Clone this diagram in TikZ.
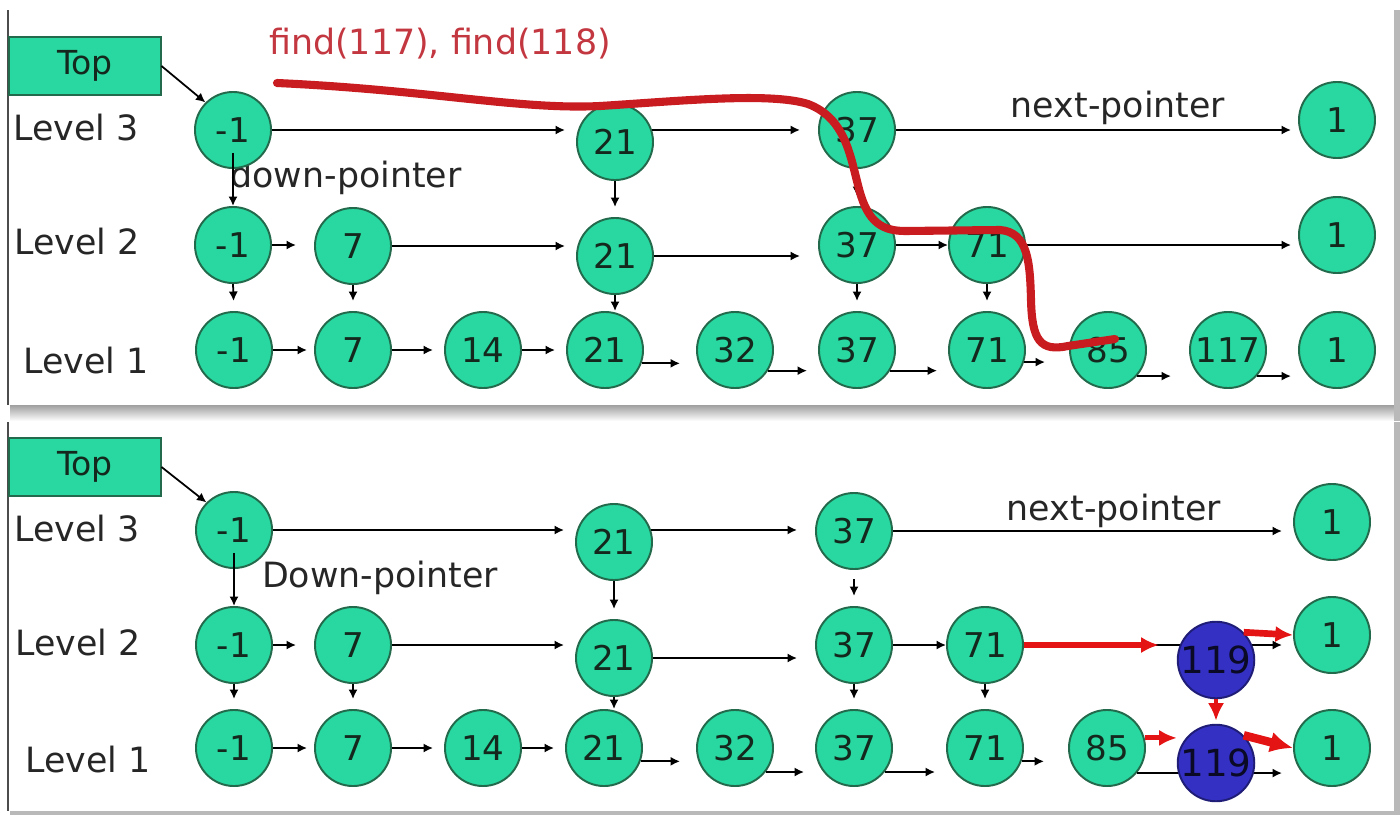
\documentclass[tikz,border=0pt]{standalone}
\usepackage{fontspec}
\setmainfont{DejaVu Sans}
\usetikzlibrary{arrows.meta}
\definecolor{vert}{RGB}{40,216,160}
\definecolor{bord}{RGB}{35,105,75}
\definecolor{bleu}{RGB}{52,48,196}
\definecolor{rouge}{RGB}{228,20,20}
\definecolor{rougefonce}{RGB}{200,28,32}
\definecolor{rougetexte}{RGB}{195,55,65}
\definecolor{texte}{RGB}{20,40,30}

\begin{document}
\begin{tikzpicture}[x=0.01cm, y=-0.01cm,
    noeud/.style={circle, draw=bord, fill=vert, line width=0.55pt, minimum size=0.76cm, inner sep=0pt,
      text=texte, font=\fontsize{9.7}{11}\selectfont},
    nouveau/.style={noeud, fill=bleu, draw=bleu!60!black, text=bleu!20!black, font=\fontsize{10.6}{12}\selectfont},
    boite/.style={rectangle, draw=bord, fill=vert, line width=0.55pt, minimum width=1.51cm,
      minimum height=0.58cm, text=texte, font=\fontsize{9.4}{11}\selectfont},
    etiq/.style={text=black!85, font=\fontsize{9.9}{12}\selectfont, inner sep=0pt},
    nxt/.style={-{Latex[length=2.7pt,width=2.6pt]}, line width=0.5pt, shorten >=0.11cm},
    dwn/.style={-{Latex[length=2.7pt,width=2.6pt]}, line width=0.5pt, shorten >=0.1cm},
    rflech/.style={-{Latex[length=5pt,width=4.6pt]}, draw=rouge, line width=1.6pt},
    chemin/.style={draw=rougefonce, line width=2.3pt, line cap=round}]
  \useasboundingbox (0,0) rectangle (1400,815);

  % Cadres et ombres
  \shade[top color=gray!75, bottom color=white] (10,405) rectangle (1400,421);
  \fill[gray!55] (1394,10) rectangle (1400,421);
  \fill[gray!55] (1394,422) rectangle (1400,815);
  \fill[gray!55] (10,811) rectangle (1400,815);
  \draw[black!70, line width=0.5pt] (8,10) -- (8,405);
  \draw[black!70, line width=0.5pt] (8,422) -- (8,811);

  % ---------- Recherche ----------
  \node[boite] (atop) at (85,66) {Top};
  \node[etiq] (al3) at (76,128) {Level 3};
  \node[etiq] (al2) at (77,242) {Level 2};
  \node[etiq] (al1) at (86,361) {Level 1};
  \node[etiq, text=rougetexte] (afind) at (440,44) {find(117), find(118)};
  \node[etiq] (adown) at (346,178) {down-pointer};
  \node[etiq] (anext) at (1118,108) {next-pointer};

  % Niveau 3
  \node[noeud] (a3n1) at (233,130) {-1};
  \node[noeud] (a3n21) at (615,142) {21};
  \node[noeud] (a3n37) at (857,130) {37};
  \node[noeud] (a3end) at (1337,120) {1};
  % Niveau 2
  \node[noeud] (a2n1) at (233,245) {-1};
  \node[noeud] (a2n7) at (353,246) {7};
  \node[noeud] (a2n21) at (615,256) {21};
  \node[noeud] (a2n37) at (857,245) {37};
  \node[noeud] (a2n71) at (987,245) {71};
  \node[noeud] (a2end) at (1337,235) {1};
  % Niveau 1
  \node[noeud] (a1n1) at (234,350) {-1};
  \node[noeud] (a1n7) at (353,350) {7};
  \node[noeud] (a1n14) at (483,350) {14};
  \node[noeud] (a1n21) at (605,350) {21};
  \node[noeud] (a1n32) at (735,350) {32};
  \node[noeud] (a1n37) at (857,350) {37};
  \node[noeud] (a1n71) at (987,350) {71};
  \node[noeud] (a1n85) at (1108,350) {85};
  \node[noeud] (a1n117) at (1228,350) {117};
  \node[noeud] (a1end) at (1337,350) {1};

  \draw[nxt, shorten >=0pt] (atop.east) -- (a3n1.north west);
  \draw[nxt] (a3n1.east) -- (a3n1.east -| a3n21.west);
  \draw[nxt, shorten >=0.18cm] (a3n21.18) -- (a3n21.18 -| a3n37.west);
  \draw[nxt, shorten >=0.07cm] (a3n37.east) -- (a3n37.east -| a3end.west);
  \draw[nxt, shorten >=0.18cm] (a2n1.east) -- (a2n1.east -| a2n7.west);
  \draw[nxt] (a2n7.east) -- (a2n7.east -| a2n21.west);
  \draw[nxt, shorten >=0.18cm] (a2n21.east) -- (a2n21.east -| a2n37.west);
  \draw[nxt, shorten >=0pt] (a2n37.east) -- (a2n37.east -| a2n71.west);
  \draw[nxt, shorten >=0.07cm] (a2n71.east) -- (a2n71.east -| a2end.west);
  \draw[nxt, shorten >=0.07cm] (a1n1.east) -- (a1n1.east -| a1n7.west);
  \draw[nxt] (a1n7.east) -- (a1n7.east -| a1n14.west);
  \draw[nxt] (a1n14.east) -- (a1n14.east -| a1n21.west);
  \draw[nxt, shorten >=0.16cm] (a1n21.-20) -- (a1n21.-20 -| a1n32.west);
  \draw[nxt] (a1n32.-32) -- (a1n32.-32 -| a1n37.west);
  \draw[nxt] (a1n37.-32) -- (a1n37.-32 -| a1n71.west);
  \draw[nxt, shorten >=0.24cm] (a1n71.-18) -- (a1n71.-18 -| a1n85.west);
  \draw[nxt, shorten >=0.18cm] (a1n85.-42) -- (a1n85.-42 -| a1n117.west);
  \draw[nxt, shorten >=0.07cm] (a1n117.-42) -- (a1n117.-42 -| a1end.west);
  \draw[dwn, shorten >=0pt] ([yshift=-6.5pt]a3n1.center) -- (a2n1.north);
  \draw[dwn] (a3n21.south) -- (a2n21.north);
  \draw[dwn] (a3n37.south) -- (a2n37.north);
  \draw[dwn] (a2n1.south) -- (a1n1.north);
  \draw[dwn] (a2n7.south) -- (a1n7.north);
  \draw[dwn, shorten >=0pt] (a2n21.south) -- (a2n21.south |- a1n21.north);
  \draw[dwn] (a2n37.south) -- (a1n37.north);
  \draw[dwn] (a2n71.south) -- (a1n71.north);

  % Trace de la recherche
  \draw[chemin] (277,83) .. controls (430,90) and (520,110) .. (600,106)
    .. controls (680,101) and (770,92) .. (808,104)
    .. controls (845,118) and (850,155) .. (858,185)
    .. controls (866,218) and (878,231) .. (905,231) -- (1000,230)
    .. controls (1028,232) and (1030,262) .. (1031,300)
    .. controls (1032,340) and (1040,352) .. (1068,346) -- (1115,339);

  % ---------- Insertion ----------
  \node[boite] (btop) at (85,467) {Top};
  \node[etiq] (bl3) at (77,529) {Level 3};
  \node[etiq] (bl2) at (78,643) {Level 2};
  \node[etiq] (bl1) at (88,760) {Level 1};
  \node[etiq] (bdown) at (380,578) {Down-pointer};
  \node[etiq] (bnext) at (1114,511) {next-pointer};

  % Niveau 3
  \node[noeud] (b3n1) at (234,530) {-1};
  \node[noeud] (b3n21) at (614,542) {21};
  \node[noeud] (b3n37) at (854,531) {37};
  \node[noeud] (b3end) at (1332,522) {1};
  % Niveau 2
  \node[noeud] (b2n1) at (234,645) {-1};
  \node[noeud] (b2n7) at (353,645) {7};
  \node[noeud] (b2n21) at (614,658) {21};
  \node[noeud] (b2n37) at (854,645) {37};
  \node[noeud] (b2n71) at (985,645) {71};
  \node[noeud] (b2end) at (1332,635) {1};
  % Niveau 1
  \node[noeud] (b1n1) at (234,748) {-1};
  \node[noeud] (b1n7) at (353,748) {7};
  \node[noeud] (b1n14) at (483,748) {14};
  \node[noeud] (b1n21) at (604,748) {21};
  \node[noeud] (b1n32) at (735,748) {32};
  \node[noeud] (b1n37) at (854,748) {37};
  \node[noeud] (b1n71) at (985,748) {71};
  \node[noeud] (b1n85) at (1107,748) {85};
  \node[noeud] (b1end) at (1332,748) {1};

  \draw[nxt, shorten >=0pt] (btop.east) -- (b3n1.north west);
  \draw[nxt] (b3n1.east) -- (b3n1.east -| b3n21.west);
  \draw[nxt, shorten >=0.18cm] (b3n21.18) -- (b3n21.18 -| b3n37.west);
  \draw[nxt] (b3n37.east) -- (b3n37.east -| b3end.west);
  \draw[nxt, shorten >=0.18cm] (b2n1.east) -- (b2n1.east -| b2n7.west);
  \draw[nxt] (b2n7.east) -- (b2n7.east -| b2n21.west);
  \draw[nxt, shorten >=0.18cm] (b2n21.east) -- (b2n21.east -| b2n37.west);
  \draw[nxt, shorten >=0pt] (b2n37.east) -- (b2n37.east -| b2n71.west);
  \draw[nxt] (b2n71.east) -- (b2n71.east -| b2end.west);
  \draw[nxt, shorten >=0.07cm] (b1n1.east) -- (b1n1.east -| b1n7.west);
  \draw[nxt] (b1n7.east) -- (b1n7.east -| b1n14.west);
  \draw[nxt] (b1n14.east) -- (b1n14.east -| b1n21.west);
  \draw[nxt, shorten >=0.16cm] (b1n21.-20) -- (b1n21.-20 -| b1n32.west);
  \draw[nxt] (b1n32.-38) -- (b1n32.-38 -| b1n37.west);
  \draw[nxt] (b1n37.-38) -- (b1n37.-38 -| b1n71.west);
  \draw[nxt, shorten >=0.24cm] (b1n71.-20) -- (b1n71.-20 -| b1n85.west);
  \draw[nxt] (b1n85.-40) -- (b1n85.-40 -| b1end.west);
  \draw[dwn, shorten >=0pt] ([yshift=-6.5pt]b3n1.center) -- (b2n1.north);
  \draw[dwn] (b3n21.south) -- (b2n21.north);
  \draw[dwn, shorten <=0.09cm] (b3n37.south) -- (b2n37.north);
  \draw[dwn] (b2n1.south) -- (b1n1.north);
  \draw[dwn] (b2n7.south) -- (b1n7.north);
  \draw[dwn, shorten >=0pt] (b2n21.south) -- (b2n21.south |- b1n21.north);
  \draw[dwn] (b2n37.south) -- (b1n37.north);
  \draw[dwn] (b2n71.south) -- (b1n71.north);

  % Nouveaux noeuds 119
  \node[nouveau] (b2n119) at (1216,660) {119};
  \node[nouveau] (b1n119) at (1216,763) {119};

  \draw[rflech, shorten >=0.18cm] (b2n71.east) -- (b2n71.east -| b2n119.west);
  \draw[rflech, line width=1.9pt] (b2n119.45) -- (b2end.west);
  \draw[rflech, line width=1.4pt, shorten >=0.03cm] (b2n119.south) -- (b1n119.north);
  \draw[rflech, line width=1.4pt] (b1n85.15) -- (b1n85.15 -| b1n119.west);
  \draw[rflech, line width=2.4pt, -{Latex[length=6.5pt,width=6pt]}] (b1n119.45) -- (b1end.west);
\end{tikzpicture}
\end{document}
